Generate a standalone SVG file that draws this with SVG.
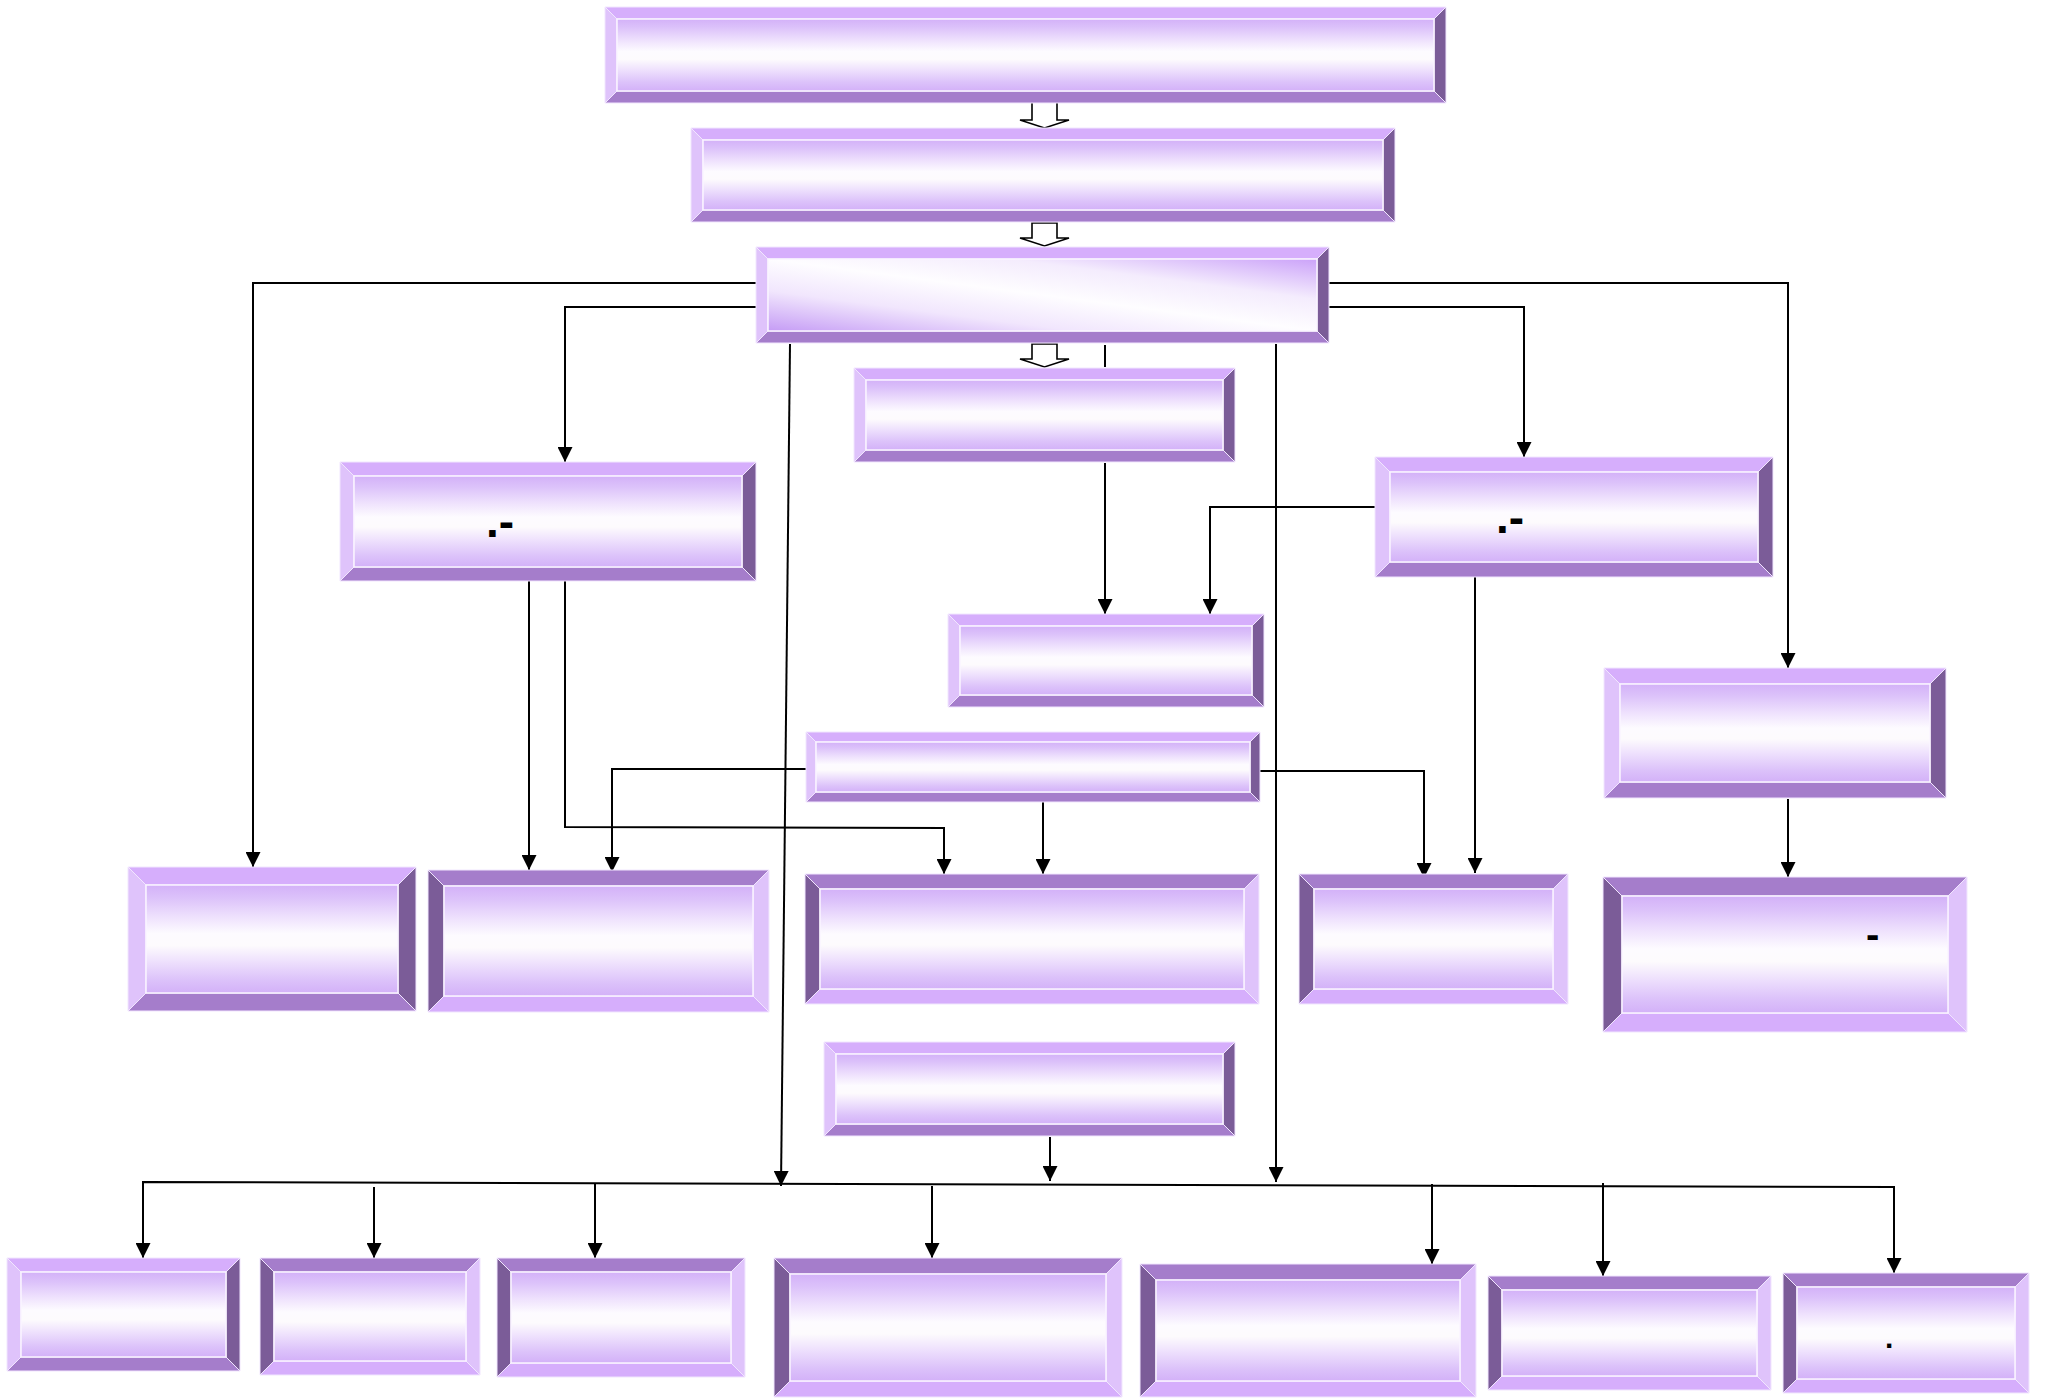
<svg xmlns="http://www.w3.org/2000/svg" width="2045" height="1399" viewBox="0 0 2045 1399">
<style>
.raised .t{fill:#d6aefc}.raised .l{fill:#dfc3fb}.raised .r{fill:#7b5c98}.raised .b{fill:#a57dcb}
.inset .t{fill:#a57dcb}.inset .l{fill:#7b5c98}.inset .r{fill:#dfc3fb}.inset .b{fill:#d6aefc}
polygon{stroke:#f1e6fe;stroke-width:1;stroke-linejoin:miter}
.face{fill:url(#face);stroke:#faf5ff;stroke-width:1.5}
.diag{fill:url(#diag);stroke:#faf5ff;stroke-width:1.5}
.c{fill:none;stroke:#000;stroke-width:2}
.a{marker-end:url(#ah)}
.blk{fill:#fff;stroke:#000;stroke-width:1.6;stroke-linejoin:miter}
.txt{font-family:"Liberation Sans",Arial,sans-serif;font-weight:bold;fill:#000}
</style>
<defs>
<linearGradient id="face" x1="0" y1="0" x2="0" y2="1">
<stop offset="0" stop-color="#d3b1f8"/>
<stop offset="0.12" stop-color="#dcc2fa"/>
<stop offset="0.3" stop-color="#efe2fd"/>
<stop offset="0.45" stop-color="#fdfbff"/>
<stop offset="0.56" stop-color="#fdfbfd"/>
<stop offset="0.7" stop-color="#efe2fd"/>
<stop offset="0.88" stop-color="#dcc2fa"/>
<stop offset="1" stop-color="#d3b1f8"/>
</linearGradient>
<linearGradient id="diag" x1="0" y1="1" x2="1" y2="0">
<stop offset="0" stop-color="#c59cf5"/>
<stop offset="0.28" stop-color="#f1e6fd"/>
<stop offset="0.5" stop-color="#fefdff"/>
<stop offset="0.72" stop-color="#f4ecfd"/>
<stop offset="1" stop-color="#cba2f9"/>
</linearGradient>
<marker id="ah" viewBox="0 0 10 10" refX="10" refY="5" markerWidth="15" markerHeight="15" markerUnits="userSpaceOnUse" orient="auto">
<path d="M0,0 L10,5 L0,10 z" fill="#000"/>
</marker>
</defs>
<rect width="2045" height="1399" fill="#fff"/>

<g id="connectors">
<polygon class="blk" points="1032,102 1057,102 1057,120 1069,120 1044.5,128 1020,120 1032,120"/>
<polygon class="blk" points="1032,223 1057,223 1057,238 1069,238 1044.5,246 1020,238 1032,238"/>
<polygon class="blk" points="1032,344 1057,344 1057,359 1069,359 1044.5,367 1020,359 1032,359"/>
<polyline class="c a" points="756,283 253,283 253,867"/>
<polyline class="c a" points="756,307 565,307 565,462"/>
<line class="c a" x1="790" y1="344" x2="781" y2="1186"/>
<line class="c" x1="1105" y1="345" x2="1105" y2="367"/>
<line class="c a" x1="1105" y1="463" x2="1105" y2="614"/>
<polyline class="c a" points="1329,283 1788,283 1788,668"/>
<polyline class="c a" points="1329,307 1524,307 1524,457"/>
<line class="c a" x1="1276" y1="344" x2="1276" y2="1182"/>
<polyline class="c a" points="1375,507 1210,507 1210,614"/>
<line class="c a" x1="1475" y1="577" x2="1475" y2="873"/>
<line class="c a" x1="529" y1="581" x2="529" y2="870"/>
<polyline class="c a" points="565,581 565,827 944,828 944,874"/>
<polyline class="c a" points="806,769 612,769 612,872"/>
<line class="c a" x1="1043" y1="802" x2="1043" y2="874"/>
<polyline class="c a" points="1260,771 1424,771 1424,878"/>
<line class="c a" x1="1788" y1="799" x2="1788" y2="877"/>
<line class="c a" x1="1050" y1="1137" x2="1050" y2="1181"/>
<polyline class="c" points="143,1258 143,1182 1894,1187"/>
<line class="c a" x1="143" y1="1190" x2="143" y2="1258"/>
<line class="c a" x1="374" y1="1187" x2="374" y2="1258"/>
<line class="c a" x1="595" y1="1184" x2="595" y2="1258"/>
<line class="c a" x1="932" y1="1186" x2="932" y2="1258"/>
<line class="c a" x1="1432" y1="1184" x2="1432" y2="1264"/>
<line class="c a" x1="1603" y1="1183" x2="1603" y2="1276"/>
<line class="c a" x1="1894" y1="1186" x2="1894" y2="1273"/>
</g>

<g id="B1" class="raised">
<polygon class="t" points="605,7 1446,7 1434,19 617,19"/>
<polygon class="b" points="605,103 1446,103 1434,91 617,91"/>
<polygon class="l" points="605,7 617,19 617,91 605,103"/>
<polygon class="r" points="1446,7 1434,19 1434,91 1446,103"/>
<rect class="face" x="617" y="19" width="817" height="72"/>
</g>
<g id="B2" class="raised">
<polygon class="t" points="691,128 1395,128 1383,140 703,140"/>
<polygon class="b" points="691,222 1395,222 1383,210 703,210"/>
<polygon class="l" points="691,128 703,140 703,210 691,222"/>
<polygon class="r" points="1395,128 1383,140 1383,210 1395,222"/>
<rect class="face" x="703" y="140" width="680" height="70"/>
</g>
<g id="B3" class="raised">
<polygon class="t" points="756,247 1329,247 1317,259 768,259"/>
<polygon class="b" points="756,343 1329,343 1317,331 768,331"/>
<polygon class="l" points="756,247 768,259 768,331 756,343"/>
<polygon class="r" points="1329,247 1317,259 1317,331 1329,343"/>
<rect class="diag" x="768" y="259" width="549" height="72"/>
</g>
<g id="B4" class="raised">
<polygon class="t" points="854,368 1235,368 1223,380 866,380"/>
<polygon class="b" points="854,462 1235,462 1223,450 866,450"/>
<polygon class="l" points="854,368 866,380 866,450 854,462"/>
<polygon class="r" points="1235,368 1223,380 1223,450 1235,462"/>
<rect class="face" x="866" y="380" width="357" height="70"/>
</g>
<g id="B5" class="raised">
<polygon class="t" points="340,462 756,462 742,476 354,476"/>
<polygon class="b" points="340,581 756,581 742,567 354,567"/>
<polygon class="l" points="340,462 354,476 354,567 340,581"/>
<polygon class="r" points="756,462 742,476 742,567 756,581"/>
<rect class="face" x="354" y="476" width="388" height="91"/>
<text class="txt" x="486" y="537" font-size="46">.-</text>
</g>
<g id="B6" class="raised">
<polygon class="t" points="1375,457 1773,457 1758,472 1390,472"/>
<polygon class="b" points="1375,577 1773,577 1758,562 1390,562"/>
<polygon class="l" points="1375,457 1390,472 1390,562 1375,577"/>
<polygon class="r" points="1773,457 1758,472 1758,562 1773,577"/>
<rect class="face" x="1390" y="472" width="368" height="90"/>
<text class="txt" x="1496" y="533" font-size="46">.-</text>
</g>
<g id="B7" class="raised">
<polygon class="t" points="948,614 1264,614 1252,626 960,626"/>
<polygon class="b" points="948,707 1264,707 1252,695 960,695"/>
<polygon class="l" points="948,614 960,626 960,695 948,707"/>
<polygon class="r" points="1264,614 1252,626 1252,695 1264,707"/>
<rect class="face" x="960" y="626" width="292" height="69"/>
</g>
<g id="B8" class="raised">
<polygon class="t" points="1604,668 1946,668 1930,684 1620,684"/>
<polygon class="b" points="1604,798 1946,798 1930,782 1620,782"/>
<polygon class="l" points="1604,668 1620,684 1620,782 1604,798"/>
<polygon class="r" points="1946,668 1930,684 1930,782 1946,798"/>
<rect class="face" x="1620" y="684" width="310" height="98"/>
</g>
<g id="B9" class="raised">
<polygon class="t" points="806,732 1260,732 1250,742 816,742"/>
<polygon class="b" points="806,802 1260,802 1250,792 816,792"/>
<polygon class="l" points="806,732 816,742 816,792 806,802"/>
<polygon class="r" points="1260,732 1250,742 1250,792 1260,802"/>
<rect class="face" x="816" y="742" width="434" height="50"/>
</g>
<g id="B10" class="raised">
<polygon class="t" points="128,867 416,867 398,885 146,885"/>
<polygon class="b" points="128,1011 416,1011 398,993 146,993"/>
<polygon class="l" points="128,867 146,885 146,993 128,1011"/>
<polygon class="r" points="416,867 398,885 398,993 416,1011"/>
<rect class="face" x="146" y="885" width="252" height="108"/>
</g>
<g id="B11" class="inset">
<polygon class="t" points="428,870 769,870 753,886 444,886"/>
<polygon class="b" points="428,1012 769,1012 753,996 444,996"/>
<polygon class="l" points="428,870 444,886 444,996 428,1012"/>
<polygon class="r" points="769,870 753,886 753,996 769,1012"/>
<rect class="face" x="444" y="886" width="309" height="110"/>
</g>
<g id="B12" class="inset">
<polygon class="t" points="805,874 1259,874 1244,889 820,889"/>
<polygon class="b" points="805,1004 1259,1004 1244,989 820,989"/>
<polygon class="l" points="805,874 820,889 820,989 805,1004"/>
<polygon class="r" points="1259,874 1244,889 1244,989 1259,1004"/>
<rect class="face" x="820" y="889" width="424" height="100"/>
</g>
<g id="B13" class="inset">
<polygon class="t" points="1299,874 1568,874 1553,889 1314,889"/>
<polygon class="b" points="1299,1004 1568,1004 1553,989 1314,989"/>
<polygon class="l" points="1299,874 1314,889 1314,989 1299,1004"/>
<polygon class="r" points="1568,874 1553,889 1553,989 1568,1004"/>
<rect class="face" x="1314" y="889" width="239" height="100"/>
</g>
<g id="B14" class="inset">
<polygon class="t" points="1603,877 1967,877 1948,896 1622,896"/>
<polygon class="b" points="1603,1032 1967,1032 1948,1013 1622,1013"/>
<polygon class="l" points="1603,877 1622,896 1622,1013 1603,1032"/>
<polygon class="r" points="1967,877 1948,896 1948,1013 1967,1032"/>
<rect class="face" x="1622" y="896" width="326" height="117"/>
<text class="txt" x="1866" y="948" font-size="40">-</text>
</g>
<g id="B15" class="raised">
<polygon class="t" points="824,1042 1235,1042 1223,1054 836,1054"/>
<polygon class="b" points="824,1136 1235,1136 1223,1124 836,1124"/>
<polygon class="l" points="824,1042 836,1054 836,1124 824,1136"/>
<polygon class="r" points="1235,1042 1223,1054 1223,1124 1235,1136"/>
<rect class="face" x="836" y="1054" width="387" height="70"/>
</g>
<g id="C1" class="raised">
<polygon class="t" points="7,1258 240,1258 226,1272 21,1272"/>
<polygon class="b" points="7,1371 240,1371 226,1357 21,1357"/>
<polygon class="l" points="7,1258 21,1272 21,1357 7,1371"/>
<polygon class="r" points="240,1258 226,1272 226,1357 240,1371"/>
<rect class="face" x="21" y="1272" width="205" height="85"/>
</g>
<g id="C2" class="inset">
<polygon class="t" points="260,1258 480,1258 466,1272 274,1272"/>
<polygon class="b" points="260,1375 480,1375 466,1361 274,1361"/>
<polygon class="l" points="260,1258 274,1272 274,1361 260,1375"/>
<polygon class="r" points="480,1258 466,1272 466,1361 480,1375"/>
<rect class="face" x="274" y="1272" width="192" height="89"/>
</g>
<g id="C3" class="inset">
<polygon class="t" points="497,1258 745,1258 731,1272 511,1272"/>
<polygon class="b" points="497,1377 745,1377 731,1363 511,1363"/>
<polygon class="l" points="497,1258 511,1272 511,1363 497,1377"/>
<polygon class="r" points="745,1258 731,1272 731,1363 745,1377"/>
<rect class="face" x="511" y="1272" width="220" height="91"/>
</g>
<g id="C4" class="inset">
<polygon class="t" points="774,1258 1122,1258 1106,1274 790,1274"/>
<polygon class="b" points="774,1397 1122,1397 1106,1381 790,1381"/>
<polygon class="l" points="774,1258 790,1274 790,1381 774,1397"/>
<polygon class="r" points="1122,1258 1106,1274 1106,1381 1122,1397"/>
<rect class="face" x="790" y="1274" width="316" height="107"/>
</g>
<g id="C5" class="inset">
<polygon class="t" points="1140,1264 1476,1264 1460,1280 1156,1280"/>
<polygon class="b" points="1140,1397 1476,1397 1460,1381 1156,1381"/>
<polygon class="l" points="1140,1264 1156,1280 1156,1381 1140,1397"/>
<polygon class="r" points="1476,1264 1460,1280 1460,1381 1476,1397"/>
<rect class="face" x="1156" y="1280" width="304" height="101"/>
</g>
<g id="C6" class="inset">
<polygon class="t" points="1488,1276 1771,1276 1757,1290 1502,1290"/>
<polygon class="b" points="1488,1390 1771,1390 1757,1376 1502,1376"/>
<polygon class="l" points="1488,1276 1502,1290 1502,1376 1488,1390"/>
<polygon class="r" points="1771,1276 1757,1290 1757,1376 1771,1390"/>
<rect class="face" x="1502" y="1290" width="255" height="86"/>
</g>
<g id="C7" class="inset">
<polygon class="t" points="1783,1273 2029,1273 2015,1287 1797,1287"/>
<polygon class="b" points="1783,1393 2029,1393 2015,1379 1797,1379"/>
<polygon class="l" points="1783,1273 1797,1287 1797,1379 1783,1393"/>
<polygon class="r" points="2029,1273 2015,1287 2015,1379 2029,1393"/>
<rect class="face" x="1797" y="1287" width="218" height="92"/>
<text class="txt" x="1885" y="1348" font-size="30">.</text>
</g>
</svg>
